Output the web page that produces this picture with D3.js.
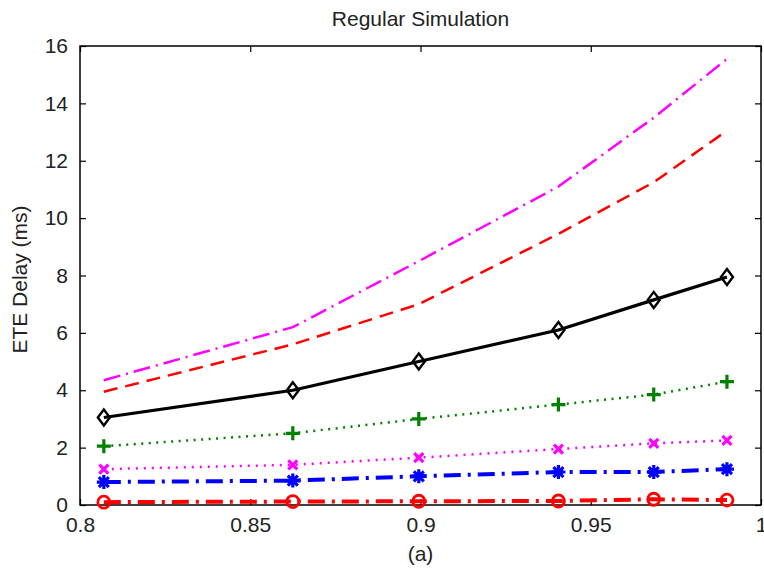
<!DOCTYPE html>
<html>
<head>
<meta charset="utf-8">
<script src="https://cdn.jsdelivr.net/npm/d3@7"></script>
<style>
  html, body { margin: 0; padding: 0; background: #fff; }
  svg text { font-family: "Liberation Sans", Arial, sans-serif; fill: #222; }
</style>
</head>
<body>
<svg id="chart" width="764" height="570"></svg>
<script>
// Load factor samples shared by every curve
const loads = [0.807, 0.8625, 0.8995, 0.9405, 0.9685, 0.99];

// End-to-end delay (ms) per traffic class
const upperDashDot = [4.35, 6.2, 8.5, 11.1, 13.5, 15.55];
const upperDashed  = [3.95, 5.6, 7.0, 9.45, 11.25, 13.05];
const diamondSeries = [3.05, 4.0, 5.0, 6.1, 7.15, 7.95];
const plusSeries    = [2.05, 2.5, 3.0, 3.5, 3.85, 4.3];
const crossSeries   = [1.25, 1.4, 1.65, 1.95, 2.15, 2.25];
const starSeries    = [0.8, 0.85, 1.0, 1.15, 1.15, 1.25];
const circleSeries  = [0.1, 0.12, 0.13, 0.14, 0.2, 0.17];

const xTicks = [0.8, 0.85, 0.9, 0.95, 1];
const xTickLabels = ["0.8", "0.85", "0.9", "0.95", "1"];
const yTicks = [0, 2, 4, 6, 8, 10, 12, 14, 16];

const titleText = "Regular Simulation";
const xLabel = "(a)";
const yLabel = "ETE Delay (ms)";

const series = [
  { values: upperDashDot, color: "#ff00ff", width: 2.5, dash: "17,6,2,6", marker: null },
  { values: upperDashed,  color: "#ff0000", width: 2.5, dash: "14,8",     marker: null },
  { values: diamondSeries, color: "#000000", width: 3.2, dash: null,      marker: "diamond" },
  { values: plusSeries,   color: "#008000", width: 2.5, dash: "2,5.5",    marker: "plus" },
  { values: crossSeries,  color: "#ff00ff", width: 2.5, dash: "2,6",      marker: "cross" },
  { values: starSeries,   color: "#0000ff", width: 4,   dash: "17,7,3,7", marker: "star" },
  { values: circleSeries, color: "#ff0000", width: 4,   dash: "17,7,3,7", marker: "circle" }
];

const svg = d3.select("#chart");
const plot = { left: 80, right: 761, top: 46, bottom: 505 };

const x = d3.scaleLinear().domain([0.8, 1]).range([plot.left, plot.right]);
const y = d3.scaleLinear().domain([0, 16]).range([plot.bottom, plot.top]);

svg.append("defs").append("clipPath").attr("id", "plot-clip")
  .append("rect")
  .attr("x", plot.left - 8).attr("y", plot.top)
  .attr("width", plot.right - plot.left + 8).attr("height", plot.bottom - plot.top + 8);

const tickLen = 6;
const fontPx = 21;

// Axes: labelled bottom/left, plus mirrored inward ticks on top/right
const bottomAxis = d3.axisBottom(x).tickValues(xTicks)
  .tickFormat((d, i) => xTickLabels[i]).tickSizeInner(-tickLen).tickSizeOuter(0).tickPadding(12);
const leftAxis = d3.axisLeft(y).tickValues(yTicks)
  .tickSizeInner(-tickLen).tickSizeOuter(0).tickPadding(12);
const topAxis = d3.axisTop(x).tickValues(xTicks).tickFormat("").tickSizeInner(-tickLen).tickSizeOuter(0);
const rightAxis = d3.axisRight(y).tickValues(yTicks).tickFormat("").tickSizeInner(-tickLen).tickSizeOuter(0);

function styleAxis(g) {
  g.select(".domain").remove();
  g.selectAll(".tick line").attr("stroke", "#000").attr("stroke-width", 1.2);
  g.selectAll(".tick text").attr("font-size", fontPx).attr("fill", "#222")
    .attr("font-family", "Liberation Sans, Arial, sans-serif");
}

svg.append("g").attr("transform", `translate(0,${plot.bottom})`).call(bottomAxis).call(styleAxis);
svg.append("g").attr("transform", `translate(${plot.left},0)`).call(leftAxis).call(styleAxis);
svg.append("g").attr("transform", `translate(0,${plot.top})`).call(topAxis).call(styleAxis);
svg.append("g").attr("transform", `translate(${plot.right},0)`).call(rightAxis).call(styleAxis);

// Box around the plotting area
svg.append("rect")
  .attr("x", plot.left).attr("y", plot.top)
  .attr("width", plot.right - plot.left).attr("height", plot.bottom - plot.top)
  .attr("fill", "none").attr("stroke", "#000").attr("stroke-width", 1.5);

const line = d3.line().x((d, i) => x(loads[i])).y(d => y(d));

const layer = svg.append("g").attr("clip-path", "url(#plot-clip)");

function markerPath(type) {
  const r = 7;
  switch (type) {
    case "diamond": return `M0,${-r - 1}L${r - 1},0L0,${r + 1}L${-r + 1},0Z`;
    case "plus": return `M${-r},0H${r}M0,${-r}V${r}`;
    case "cross": { const s = 4.5; return `M${-s},${-s}L${s},${s}M${-s},${s}L${s},${-s}`; }
    case "star": { const s = 5; return `M${-r},0H${r}M0,${-r}V${r}M${-s},${-s}L${s},${s}M${-s},${s}L${s},${-s}`; }
    default: return "";
  }
}

series.forEach(s => {
  layer.append("path")
    .attr("d", line(s.values))
    .attr("fill", "none")
    .attr("stroke", s.color)
    .attr("stroke-width", s.width)
    .attr("stroke-dasharray", s.dash)
    .attr("stroke-linejoin", "round");

  if (!s.marker) return;
  const g = layer.append("g");
  s.values.forEach((v, i) => {
    const cx = x(loads[i]), cy = y(v);
    if (s.marker === "circle") {
      g.append("circle").attr("cx", cx).attr("cy", cy).attr("r", 6)
        .attr("fill", "none").attr("stroke", s.color).attr("stroke-width", 2.8);
    } else {
      g.append("path").attr("transform", `translate(${cx},${cy})`)
        .attr("d", markerPath(s.marker))
        .attr("fill", "none").attr("stroke", s.color)
        .attr("stroke-width", s.marker === "diamond" ? 2.4 : 3.2);
    }
  });
});

// Title and axis labels
svg.append("text").attr("x", (plot.left + plot.right) / 2).attr("y", 26)
  .attr("text-anchor", "middle").attr("font-size", 21).text(titleText);
svg.append("text").attr("x", (plot.left + plot.right) / 2).attr("y", 561)
  .attr("text-anchor", "middle").attr("font-size", fontPx).text(xLabel);
svg.append("text")
  .attr("transform", `translate(27,${(plot.top + plot.bottom) / 2 + 4}) rotate(-90)`)
  .attr("text-anchor", "middle").attr("font-size", fontPx).text(yLabel);
</script>
</body>
</html>
